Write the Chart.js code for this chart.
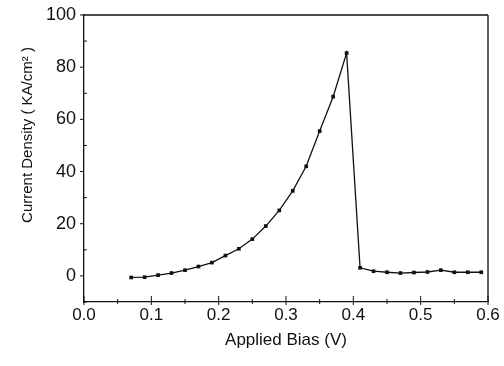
<!DOCTYPE html>
<html>
<head>
<meta charset="utf-8">
<script src="https://cdn.jsdelivr.net/npm/chart.js@4"></script>
<style>
  html, body { margin: 0; padding: 0; background: #fff; }
  #wrap { width: 504px; height: 366px; position: relative; }
</style>
</head>
<body>
<div id="wrap"><canvas id="c" width="504" height="366"></canvas></div>
<script>
// Applied bias (V) and measured current density (KA/cm^2)
const biasV = [0.07, 0.09, 0.11, 0.13, 0.15, 0.17, 0.19, 0.21, 0.23, 0.25, 0.27, 0.29, 0.31, 0.33,
               0.35, 0.37, 0.39, 0.41, 0.43, 0.45, 0.47, 0.49, 0.51, 0.53, 0.55, 0.57, 0.59];
const currentDensity = [-0.6, -0.5, 0.3, 1.1, 2.2, 3.6, 5.1, 7.8, 10.4, 14.1, 19.1, 25.1, 32.6, 42.0,
                        55.5, 68.7, 85.4, 3.1, 1.8, 1.4, 1.1, 1.3, 1.5, 2.2, 1.4, 1.4, 1.4];

const xTicks = [0.0, 0.1, 0.2, 0.3, 0.4, 0.5, 0.6];
const xMinorTicks = [0.05, 0.15, 0.25, 0.35, 0.45, 0.55];
const yTicks = [0, 20, 40, 60, 80, 100];
const yMinorTicks = [-10, 10, 30, 50, 70, 90];

const xTitle = 'Applied Bias (V)';
const yTitle = 'Current Density ( KA/cm\u00B2 )';

const FONT = "'Liberation Sans', Arial, sans-serif";
const INK = '#111';

// Frame, tick marks and rotated y title
const framePlugin = {
  id: 'frame',
  afterDraw(chart) {
    const { ctx, chartArea: a, scales: { x, y } } = chart;
    ctx.save();
    ctx.strokeStyle = INK;
    ctx.lineWidth = 1.3;
    ctx.beginPath();
    ctx.moveTo(a.left, a.top); ctx.lineTo(a.right, a.top);
    ctx.moveTo(a.right, a.top); ctx.lineTo(a.right, a.bottom);
    ctx.stroke();

    ctx.lineWidth = 1;
    ctx.beginPath();
    xTicks.forEach(v => { const px = x.getPixelForValue(v); ctx.moveTo(px, a.bottom - 6); ctx.lineTo(px, a.bottom + 3); });
    xMinorTicks.forEach(v => { const px = x.getPixelForValue(v); ctx.moveTo(px, a.bottom - 3); ctx.lineTo(px, a.bottom + 2); });
    yTicks.forEach(v => { const py = y.getPixelForValue(v); ctx.moveTo(a.left - 4, py); ctx.lineTo(a.left, py); });
    yMinorTicks.forEach(v => { const py = y.getPixelForValue(v); ctx.moveTo(a.left, py); ctx.lineTo(a.left + 3, py); });
    ctx.stroke();

    ctx.fillStyle = INK;
    ctx.font = "15px " + FONT;
    ctx.textAlign = 'center';
    ctx.textBaseline = 'middle';
    ctx.translate(28, 135);
    ctx.rotate(-Math.PI / 2);
    ctx.fillText(yTitle, 0, 0);
    ctx.restore();
  }
};

new Chart(document.getElementById('c'), {
  type: 'line',
  data: {
    datasets: [{
      data: biasV.map((v, i) => ({ x: v, y: currentDensity[i] })),
      borderColor: INK,
      borderWidth: 1.3,
      backgroundColor: INK,
      pointStyle: 'rect',
      pointRadius: 2.6,
      pointBorderWidth: 0,
      tension: 0,
      fill: false
    }]
  },
  options: {
    responsive: false,
    animation: false,
    devicePixelRatio: 1,
    layout: { padding: { top: 15, right: 16, left: 0, bottom: 0 } },
    plugins: { legend: { display: false }, tooltip: { enabled: false } },
    scales: {
      x: {
        type: 'linear',
        min: 0, max: 0.6,
        grid: { display: false },
        border: { display: true, color: INK, width: 1.3 },
        afterBuildTicks(s) { s.ticks = xTicks.map(v => ({ value: v })); },
        afterFit(s) { s.height = 64; },
        ticks: {
          color: INK, padding: -5, maxRotation: 0,
          font: { family: FONT, size: 17 },
          callback: v => Number(v).toFixed(1)
        },
        title: {
          display: true, text: xTitle, color: INK,
          font: { family: FONT, size: 17 },
          padding: { top: 0, bottom: 15 }
        }
      },
      y: {
        type: 'linear',
        min: -10, max: 100,
        grid: { display: false },
        border: { display: true, color: INK, width: 1.3 },
        afterBuildTicks(s) { s.ticks = yTicks.map(v => ({ value: v })); },
        afterFit(s) { s.width = 84; },
        ticks: {
          color: INK, padding: 0,
          font: { family: FONT, size: 18 }
        }
      }
    }
  },
  plugins: [framePlugin]
});
</script>
</body>
</html>
